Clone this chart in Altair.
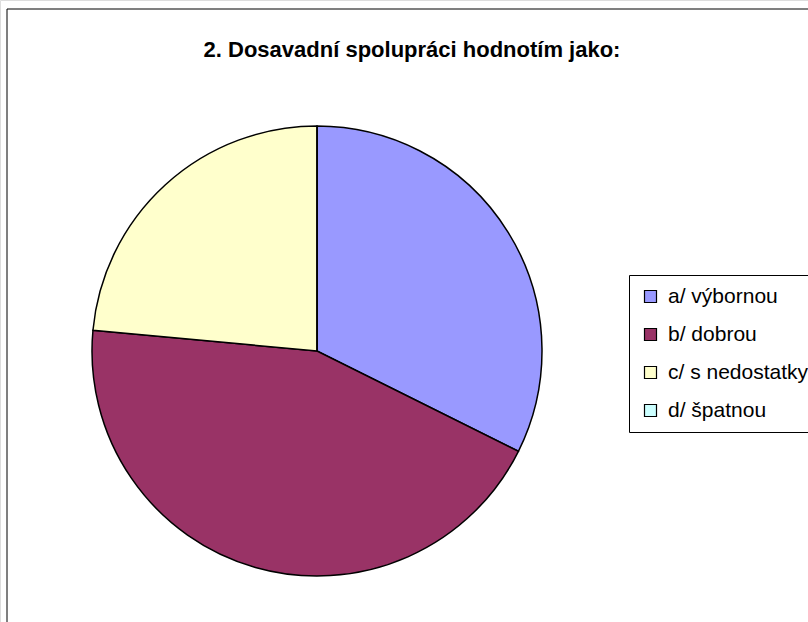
import altair as alt
import pandas as pd

categories = ["a/ výbornou", "b/ dobrou", "c/ s nedostatky", "d/ špatnou"]
values = [11, 15, 8, 0]
colors = ["#9999FF", "#993366", "#FFFFCC", "#CCFFFF"]
title_text = "2. Dosavadní spolupráci hodnotím jako:"

df = pd.DataFrame({"kategorie": categories, "pocet": values, "poradi": list(range(len(categories)))})

frame = alt.Chart(pd.DataFrame({"f": [0]})).mark_rect(
    fill="white", stroke="black", strokeWidth=1
).encode(
    x=alt.value(7), x2=alt.value(840), y=alt.value(9), y2=alt.value(660)
)

pie = alt.Chart(df).mark_arc(
    outerRadius=225, stroke="black", strokeWidth=1.5
).encode(
    theta=alt.Theta("pocet:Q", stack=True),
    order=alt.Order("poradi:Q", sort="ascending"),
    color=alt.Color(
        "kategorie:N",
        sort=categories,
        scale=alt.Scale(domain=categories, range=colors),
        legend=alt.Legend(
            title=None,
            orient="none",
            legendX=629,
            legendY=275,
            direction="vertical",
            strokeColor="black",
            fillColor="white",
            padding=11,
            rowPadding=16,
            symbolType="square",
            symbolSize=144,
            symbolStrokeColor="black",
            symbolStrokeWidth=1.2,
            symbolOpacity=1,
            labelFont="Liberation Sans",
            labelFontSize=21,
            labelColor="black",
            labelOffset=7,
            labelLimit=400,
        ),
    ),
    x=alt.value(317),
    y=alt.value(351),
)

title = alt.Chart(pd.DataFrame({"t": [title_text]})).mark_text(
    font="Liberation Sans", fontSize=22, fontWeight="bold", color="black",
    align="center", baseline="alphabetic"
).encode(
    text="t:N", x=alt.value(412), y=alt.value(57)
)

chart = alt.layer(frame, pie, title).properties(
    width=808, height=622, padding=0, autosize=alt.AutoSizeParams(type="none")
).configure_view(stroke=None).configure(background="white")

chart.save("out.html", embed_options={"renderer": "svg", "actions": False})
